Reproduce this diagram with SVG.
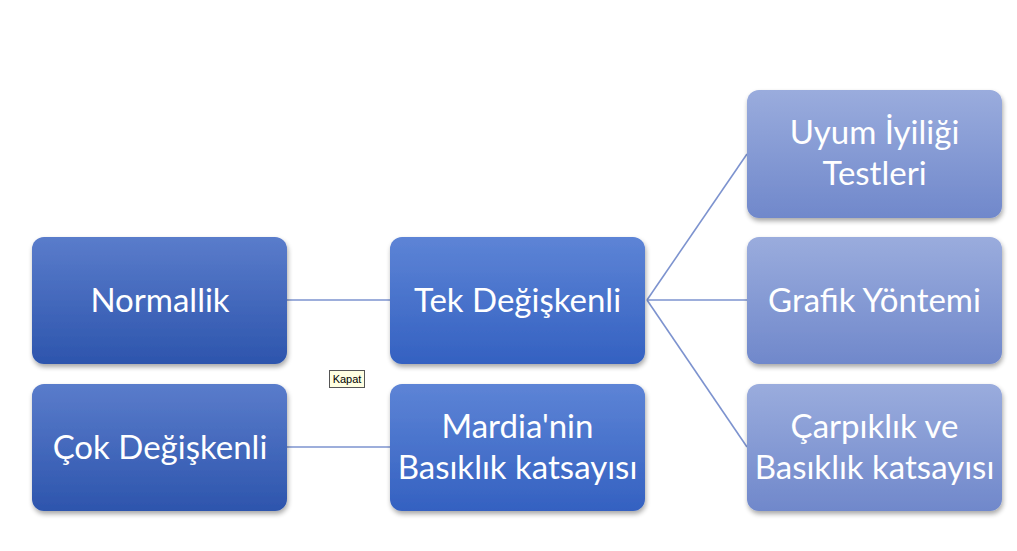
<svg xmlns="http://www.w3.org/2000/svg" width="1017" height="551" viewBox="0 0 1017 551">
<style>
.t{font-family:Lato,"Open Sans",sans-serif;font-size:33px;fill:#ffffff;text-anchor:middle}
.c{stroke:#7d93cf;stroke-width:1.6;fill:none}
</style>
<defs>
<linearGradient id="gd" x1="0" y1="0" x2="0" y2="1"><stop offset="0" stop-color="#5a7ccb"/><stop offset="1" stop-color="#2d55ad"/></linearGradient>
<linearGradient id="gm" x1="0" y1="0" x2="0" y2="1"><stop offset="0" stop-color="#5d84d6"/><stop offset="1" stop-color="#3461c1"/></linearGradient>
<linearGradient id="gl" x1="0" y1="0" x2="0" y2="1"><stop offset="0" stop-color="#9aacdd"/><stop offset="1" stop-color="#7088cb"/></linearGradient>
<filter id="sh" x="-10%" y="-10%" width="125%" height="130%"><feGaussianBlur in="SourceAlpha" stdDeviation="2.5"/><feOffset dx="1" dy="3"/><feComponentTransfer><feFuncA type="linear" slope="0.35"/></feComponentTransfer><feMerge><feMergeNode/><feMergeNode in="SourceGraphic"/></feMerge></filter>
</defs>
<rect width="1017" height="551" fill="#ffffff"/>
<g id="connectors">
<line class="c" x1="287" y1="300" x2="390" y2="300"/>
<line class="c" x1="287" y1="447" x2="390" y2="447"/>
<line class="c" x1="647" y1="300" x2="747" y2="154"/>
<line class="c" x1="647" y1="300" x2="747" y2="300"/>
<line class="c" x1="647" y1="300" x2="747" y2="447"/>
</g>
<g id="normallik"><rect x="32" y="237" width="255" height="127" rx="12" fill="url(#gd)" filter="url(#sh)"/><text class="t" x="160" y="312">Normallik</text></g>
<g id="cok"><rect x="32" y="384" width="255" height="127" rx="12" fill="url(#gd)" filter="url(#sh)"/><text class="t" x="160" y="459">Çok Değişkenli</text></g>
<g id="tek"><rect x="390" y="237" width="255" height="127" rx="12" fill="url(#gm)" filter="url(#sh)"/><text class="t" x="517.5" y="312">Tek Değişkenli</text></g>
<g id="mardia"><rect x="390" y="384" width="255" height="127" rx="12" fill="url(#gm)" filter="url(#sh)"/><text class="t" x="517.5" y="438">Mardia'nin</text><text class="t" x="517.5" y="479">Basıklık katsayısı</text></g>
<g id="uyum"><rect x="747" y="90" width="255" height="128" rx="12" fill="url(#gl)" filter="url(#sh)"/><text class="t" x="874.5" y="144">Uyum İyiliği</text><text class="t" x="874.5" y="185">Testleri</text></g>
<g id="grafik"><rect x="747" y="237" width="255" height="127" rx="12" fill="url(#gl)" filter="url(#sh)"/><text class="t" x="874.5" y="312">Grafik Yöntemi</text></g>
<g id="carpiklik"><rect x="747" y="384" width="255" height="127" rx="12" fill="url(#gl)" filter="url(#sh)"/><text class="t" x="874.5" y="438">Çarpıklık ve</text><text class="t" x="874.5" y="479">Basıklık katsayısı</text></g>
<g id="kapat"><rect x="329.5" y="370.5" width="35" height="17" fill="#ffffe1" stroke="#555555" stroke-width="1"/><text x="347" y="383" font-family="Liberation Sans,Arial,sans-serif" font-size="11" fill="#000000" text-anchor="middle">Kapat</text></g>
</svg>
